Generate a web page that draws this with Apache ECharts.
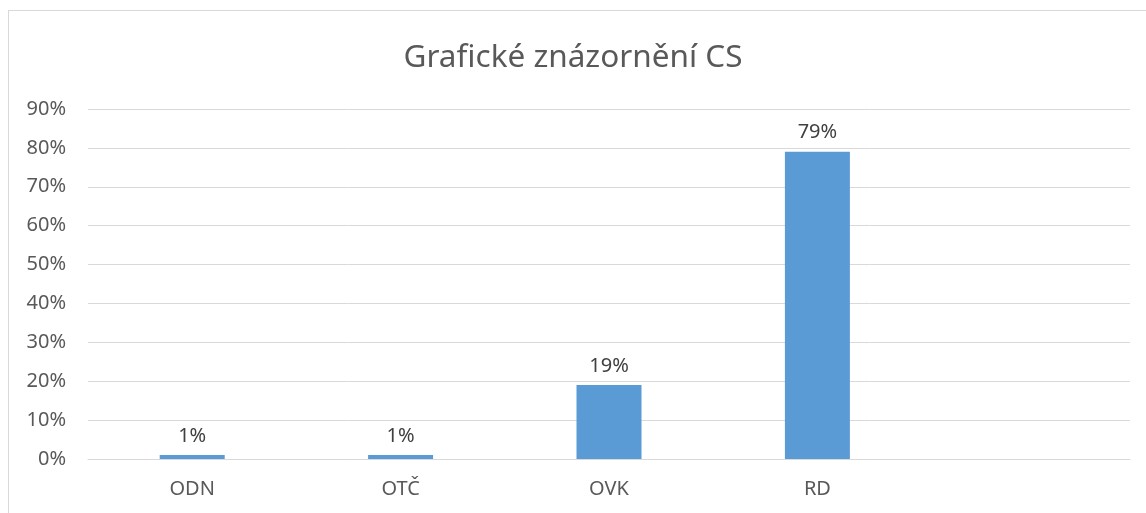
<!DOCTYPE html>
<html>
<head>
<meta charset="utf-8">
<script src="https://cdn.jsdelivr.net/npm/echarts@6/dist/echarts.min.js"></script>
<style>
  html, body { margin: 0; padding: 0; background: #fff; overflow: hidden; }
  #frame { position: absolute; left: 8px; top: 10px; width: 1160px; height: 530px; border: 1px solid #d9d9d9; }
  #main { position: absolute; left: 0; top: 0; width: 1146px; height: 513px; }
</style>
</head>
<body>
<div id="frame"></div>
<div id="main"></div>
<script>
// kategorie (poslední slot je v originále prázdný)
const categories = ['ODN', 'OTČ', 'OVK', 'RD', ''];
const values = [1, 1, 19, 79, null];
const yTicks = [0, 10, 20, 30, 40, 50, 60, 70, 80, 90];

const chart = echarts.init(document.getElementById('main'));
chart.setOption({
  animation: false,
  title: {
    text: 'Grafické znázornění CS',
    left: 'center',
    top: 37,
    textStyle: { fontFamily: 'Noto Sans', fontSize: 31.5, fontWeight: 'normal', color: '#595959' }
  },
  grid: { left: 88, right: 16, top: 109, bottom: 54 },
  xAxis: {
    type: 'category',
    data: categories,
    axisLine: { show: true, lineStyle: { color: '#d9d9d9', width: 1 } },
    axisTick: { show: false },
    axisLabel: { color: '#595959', fontFamily: 'Noto Sans', fontSize: 20, margin: 20 }
  },
  yAxis: {
    type: 'value',
    min: yTicks[0],
    max: yTicks[yTicks.length - 1],
    interval: 10,
    axisLine: { show: false },
    axisTick: { show: false },
    splitLine: { lineStyle: { color: '#d9d9d9', width: 1 } },
    axisLabel: { color: '#595959', fontFamily: 'Noto Sans', fontSize: 20, margin: 22, formatter: '{value}%' }
  },
  series: [{
    type: 'bar',
    data: values,
    barWidth: 65,
    itemStyle: { color: '#5b9bd5' },
    label: {
      show: true,
      position: 'top',
      distance: 9,
      formatter: p => p.value + '%',
      color: '#404040',
      fontFamily: 'Noto Sans',
      fontSize: 20
    }
  }]
});
</script>
</body>
</html>
